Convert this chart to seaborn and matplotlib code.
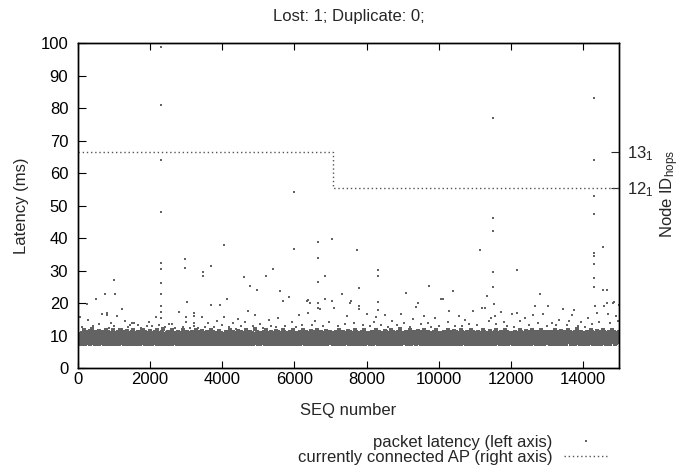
import numpy as np
import pandas as pd
import matplotlib
matplotlib.use("Agg")
import matplotlib.pyplot as plt
import seaborn as sns
from matplotlib.lines import Line2D

# ---------------- data ----------------
title = "Lost: 1; Duplicate: 0;"
x_ticks = [0, 2000, 4000, 6000, 8000, 10000, 12000, 14000]
y_ticks = [0, 10, 20, 30, 40, 50, 60, 70, 80, 90, 100]
node_ticks = [12, 13]
node_tick_labels = [r"$\mathregular{12_1}$", r"$\mathregular{13_1}$"]

# currently connected AP (right axis)
ap_seq = [0, 7070, 15000]
ap_node = [13, 12, 12]

# high-latency outliers (seq, ms)
outlier_seq = [2301, 2301, 2301, 2301, 2301, 2301, 2301, 2301, 2301, 2301,
               1007, 2967, 2967, 3013, 3456, 3456, 3678, 4048, 4594, 4779,
               4963, 5212, 5416, 5610, 5989, 5989, 6654, 6654, 6654, 6857,
               7042, 7744, 7800, 8308, 8308, 9102, 9731, 10387, 11154,
               11514, 11514, 11514, 11514, 11514, 12180,
               14315, 14315, 14315, 14315, 14315, 14315, 14315, 14315, 14315,
               14566, 14570, 14680, 14843, 14995]
outlier_lat = [98.9, 81.0, 64.2, 48.1, 32.4, 30.5, 26.2, 22.8, 19.2, 17.3,
               27.1, 33.7, 31.0, 20.3, 29.7, 28.4, 31.4, 37.9, 28.1, 25.3,
               24.2, 28.5, 30.6, 23.7, 36.6, 54.3, 39.0, 33.8, 26.5, 28.3,
               39.9, 36.5, 24.7, 30.2, 28.5, 23.2, 25.3, 23.8, 36.3,
               77.1, 46.1, 42.4, 29.5, 25.1, 30.2,
               83.1, 64.1, 53.0, 47.5, 35.6, 34.6, 32.0, 27.9, 24.9,
               37.4, 24.0, 24.2, 20.0, 19.4]

# scattered mid-range points (seq, ms)
mid_seq = [46, 120, 258, 286, 350, 420, 507, 591, 674, 749, 804, 804, 860, 915, 990,
           1034, 1081, 1150, 1229, 1303, 1380, 1450, 1511, 1560, 1673, 1750, 1830,
           1900, 1960, 2060, 2162, 2250, 2310, 2400, 2523, 2600, 2680, 2810, 2900,
           2985, 2985, 3100, 3207, 3207, 3215, 3230, 3330, 3447, 3520, 3600, 3688,
           3780, 3860, 3928, 3990, 4050, 4122, 4200, 4300, 4380, 4450, 4520, 4640,
           4700, 4850, 4900, 5050, 5120, 5300, 5350, 5480, 5550, 5693, 5750, 5850,
           5920, 6050, 6120, 6200, 6340, 6368, 6370, 6430, 6500, 6560, 6666, 6666,
           6700, 6780, 6857, 6950, 7052, 7090, 7200, 7328, 7400, 7450, 7550, 7561,
           7650, 7790, 7800, 7900, 8000, 8100, 8200, 8250, 8308, 8330, 8400, 8500,
           8600, 8700, 8850, 8950, 9050, 9200, 9300, 9380, 9427, 9500, 9600, 9700,
           9800, 9900, 10000, 10055, 10120, 10250, 10300, 10450, 10550, 10650, 10720,
           10850, 10950, 11050, 11200, 11284, 11330, 11400, 11460, 11530, 11560,
           11600, 11719, 11800, 11900, 12024, 12100, 12180, 12250, 12393, 12500,
           12606, 12670, 12750, 12810, 12901, 13000, 13039, 13150, 13250, 13350,
           13455, 13550, 13600, 13697, 13752, 13850, 13950, 14050, 14150, 14250,
           14334, 14381, 14450, 14583, 14667, 14695, 14760, 14861, 14916, 14960]
mid_lat = [15.8, 12.6, 19.7, 15.0, 12.3, 13.1, 21.2, 13.6, 16.8, 23.0, 17.1, 16.3, 12.4, 14.0, 12.9,
           22.8, 16.0, 12.2, 18.2, 14.5, 12.8, 13.3, 14.0, 14.0, 13.2, 12.5, 12.1,
           12.9, 14.2, 13.0, 15.8, 13.4, 15.6, 12.6, 13.5, 13.6, 12.4, 17.3, 12.7,
           15.8, 14.4, 12.3, 16.9, 16.1, 13.8, 13.0, 12.5, 15.8, 12.8, 13.9, 19.4,
           12.6, 14.6, 19.6, 13.3, 15.9, 21.2, 12.7, 13.9, 12.2, 15.2, 13.0, 14.4,
           17.6, 12.9, 16.3, 13.5, 12.3, 14.8, 13.1, 12.6, 15.5, 20.6, 13.0, 22.0,
           14.3, 12.8, 16.5, 13.4, 20.6, 16.9, 21.0, 20.0, 13.2, 14.6, 20.0, 18.7,
           18.1, 13.0, 21.3, 14.2, 20.8, 18.5, 13.1, 22.8, 13.6, 16.0, 20.0, 20.6,
           14.0, 19.1, 18.3, 13.4, 16.6, 12.9, 14.1, 15.8, 20.3, 18.0, 13.3, 16.3,
           12.7, 14.5, 13.2, 16.8, 13.9, 12.6, 15.2, 18.9, 20.2, 13.5, 16.1, 14.0,
           12.8, 15.6, 13.1, 21.3, 21.3, 14.3, 17.5, 13.0, 16.0, 12.9, 14.8,
           13.6, 17.7, 13.2, 18.5, 18.6, 22.3, 14.6, 15.4, 19.9, 16.0,
           13.5, 17.3, 14.1, 13.0, 16.6, 12.7, 17.1, 14.6, 15.6, 13.2,
           16.3, 19.1, 13.8, 22.8, 16.6, 12.9, 19.3, 14.0, 13.2, 15.0,
           18.2, 13.4, 14.7, 16.3, 17.9, 13.0, 14.4, 12.8, 15.6, 13.6,
           19.1, 17.1, 14.2, 19.1, 20.0, 16.6, 13.8, 20.3, 16.2, 14.6]

# dense latency band, one hex code per packet sample: ms = band_base + band_unit * code
band_base = 7.5
band_unit = 0.3
band_codes = (
    "3517a2846093b5172e4805c6391a7428d05b3619f2748a0c53816b2947d0563a81c49270b6358e1a4092c7538b6104a7e3925"
    "6802b4917c35a0628e1947b5306a2c8415d9703b62a5841c0973e5286b14092a7c3581604b9e2735a1680c4927b3516a0d48"
    "25a8036b1749c2580e3617a4925b0836c1f4720a5938b6140c2795a3816e0472b9536a1408c7253b9061a4782e5390b6147c"
    "9051a3862b7406c3915a2807e4b6193508a2c6741d3095b8162a4703c9581b6240e7a3195c0827b4613a9052d8714b3602a5"
    "1738a5092c6418b3705e2a9461c8037b5294a16083d7b2540c9618a3725b0496e1832a7504c6193b8205a7416f2938c0571b"
    "47026b9385a1c4702e6815b3940a7268c1539b4072a6815d3094c7261b5830a4e9172c6053b8421a7094c5316b2807e4159a"
    "0864b2a3715c9047b2816e3a5094c7182b6035a9418d2706c4b8153a0927e5613b4082c9715a3604b8259d1703a6428c1957"
    "5a3092b6184c7035a9216e4803b7592c1460a8375b2914d0683c7521a9406b3e8172c5049a3816b7025c4193e8560a2714b3"
    "2b6940a7153c8206b5941e3728a0465c9137b2804a6519d3072c8416b5903a2e7614c0839b5172a4068c3915f4270b8536a1"
    "8134c6a0927b5318e2406a9573c1b8264a0539d7162b4805c3a9176e2048b5391a6c7203b8415a9062c7348e1b5096a4273"
    "6b0293a8715c4026b9813e5a7402c6195b3a8047d2619c5803b7a1426e9053c8172b4a6039c5814b2706a3e9158c0427b63"
    "3907a5c2148b6035a9271e4c0836b2594a1703c8d5260b9413a7c0582e6194b3a7025c8416b9307a2e5148c6093b7a52416"
    "a1540b7369c2805a4b1736e0925c8a4107b3695d2a0814c7b3592a06e8143c9b5270a4816c3b9052a7e4613b8059c2a7143"
    "4c8261a9035b7c4180a6e2953b7140c8a2563d9170b4a8253c6019a7e4382b5c1907a6348b2c5091a7f4263b8015c9a4372"
    "7025b3a8146c9053b7a2e4186c0a9532b4718d0a6253c9b1740a8e5362c1b9074a5823c6b0194a7e3582c9b6041a7352b8c"
)
band_first_seq = 0
band_last_seq = 14995

# ---------------- build tables ----------------
band_lat = [band_base + band_unit * int(c, 16) for c in band_codes]
band_seq = np.linspace(band_first_seq, band_last_seq, len(band_codes))
band_df = pd.DataFrame({"seq": band_seq, "latency": band_lat})
sparse_df = pd.DataFrame({
    "seq": np.concatenate([mid_seq, outlier_seq]),
    "latency": np.concatenate([mid_lat, outlier_lat]),
})
ap_df = pd.DataFrame({"seq": ap_seq, "node": ap_node})

# ---------------- style ----------------
sns.set_style("ticks")
FS = 12
plt.rcParams["font.family"] = ["Liberation Sans", "DejaVu Sans"]
plt.rcParams["font.size"] = FS
plt.rcParams["mathtext.fontset"] = "custom"
plt.rcParams["mathtext.rm"] = "Liberation Sans"
plt.rcParams["mathtext.it"] = "Liberation Sans"

pt_color = "#636363"
ap_color = "#555555"

fig = plt.figure(figsize=(6.8, 4.67), dpi=100)
ax = fig.add_axes([78 / 680, 1 - 368.3 / 467, (619 - 78) / 680, (368.3 - 43.3) / 467])

sns.scatterplot(data=band_df, x="seq", y="latency", ax=ax, color=pt_color, marker="s",
                s=5.6, linewidth=0, legend=False)
sns.scatterplot(data=sparse_df, x="seq", y="latency", ax=ax, color=pt_color, marker="s",
                s=3.2, linewidth=0, legend=False)

ax.set_xlim(0, 15000)
ax.set_ylim(0, 100)
ax.set_xticks(x_ticks)
ax.set_yticks(y_ticks)
ax.set_xlabel("SEQ number", fontsize=FS, labelpad=11)
ax.set_ylabel("Latency (ms)", fontsize=FS, labelpad=8)
ax.set_title(title, fontsize=FS, pad=16)
ax.tick_params(axis="x", direction="in", length=5, width=0.8, labelsize=FS,
               top=True, pad=3, colors="black")
ax.tick_params(axis="y", direction="in", length=6, width=0.8, labelsize=FS,
               right=False, pad=7, colors="black")
for sp in ax.spines.values():
    sp.set_visible(True)
    sp.set_linewidth(1.0)
    sp.set_color("black")

ax2 = ax.twinx()
sns.lineplot(data=ap_df, x="seq", y="node", ax=ax2, drawstyle="steps-post",
             color=ap_color, linestyle=(0, (1, 2)), linewidth=1.0, legend=False)
ax2.set_ylim(7, 16)
ax2.set_yticks(node_ticks)
ax2.set_yticklabels(node_tick_labels)
ax2.set_ylabel(r"Node ID$_{\mathregular{hops}}$", fontsize=FS)
ax2.yaxis.set_label_coords(1.073, 0.536)
ax2.tick_params(axis="y", direction="in", length=6, width=0.8, labelsize=FS, pad=6)
ax2.set_xlim(0, 15000)
for sp in ax2.spines.values():
    sp.set_visible(True)
    sp.set_linewidth(1.0)
    sp.set_color("black")

handles = [
    Line2D([], [], linestyle="none", marker="s", markersize=1.6, color=pt_color,
           markeredgewidth=0),
    Line2D([], [], linestyle=(0, (1, 2)), linewidth=1.0, color=ap_color),
]
labels = ["packet latency (left axis)", "currently connected AP (right axis)"]
fig.legend(handles, labels, loc="upper right", bbox_to_anchor=(0.893, 0.069),
           frameon=False, markerfirst=False, handlelength=2.6, handletextpad=0.7,
           borderpad=0, borderaxespad=0, labelspacing=0.0, fontsize=FS)

fig.savefig("out.png", dpi=100)
